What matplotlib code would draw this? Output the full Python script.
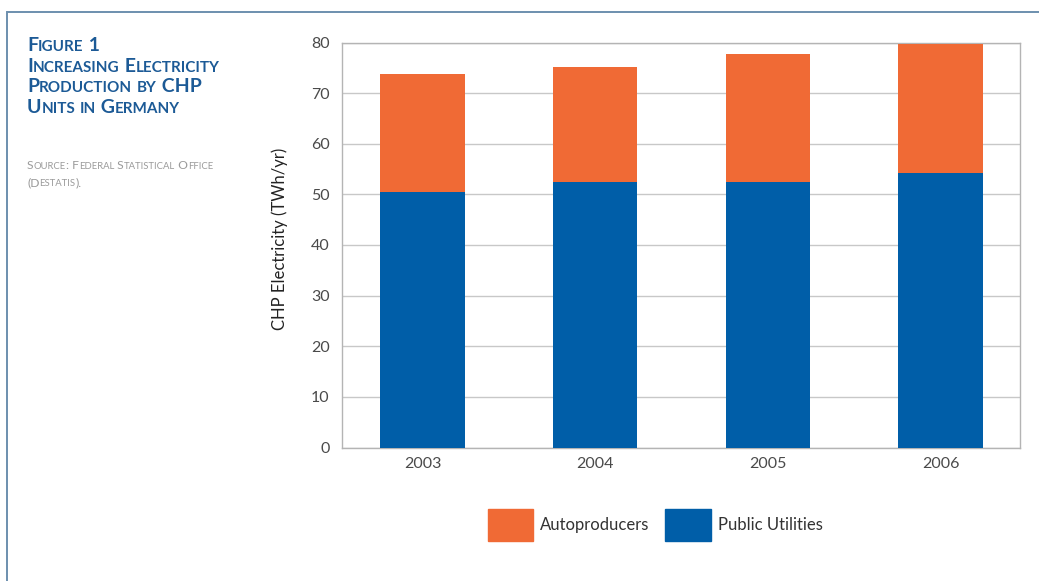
import numpy as np
import matplotlib
matplotlib.use('Agg')
import matplotlib.pyplot as plt
from matplotlib.patches import Patch
from matplotlib.lines import Line2D

# datos (TWh/yr)
years = ['2003', '2004', '2005', '2006']
public = [50.4, 52.4, 52.5, 54.2]
auto = [23.4, 22.8, 25.3, 25.5]

orange = '#f06a35'
blue = '#005ea8'
title_col = '#1c5a96'
W, H = 1039, 581

plt.rcParams['font.family'] = ['Lato', 'DejaVu Sans']

fig = plt.figure(figsize=(W / 100, H / 100), dpi=100)
fig.patch.set_facecolor('white')
ren = fig.canvas.get_renderer()


def px(x, y):
    # pixel (desde arriba a la izquierda) -> fraccion de figura
    return x / W, 1 - y / H


def smallcaps(x, y, text, big, small, color, weight='normal'):
    # dibuja texto en versalitas midiendo cada tramo
    runs = []
    for ch in text:
        size = small if ch.islower() else big
        if runs and runs[-1][1] == size:
            runs[-1][0] += ch.upper()
        else:
            runs.append([ch.upper(), size])
    cx = x
    for s, size in runs:
        t = fig.text(*px(cx, y), s.replace(' ', '\u00a0'), fontsize=size,
                     color=color, fontweight=weight, va='baseline', ha='left')
        cx += t.get_window_extent(ren).width


# marco azul de la figura
fig.add_artist(Line2D([8 / W, 1], [1 - 12 / H] * 2, color='#6d8fae', lw=1.4))
fig.add_artist(Line2D([7 / W] * 2, [0, 1 - 12 / H], color='#6d8fae', lw=1.4))

# titulo
smallcaps(27, 51, 'Figure 1', 14, 11, title_col, 'bold')
smallcaps(27, 72, 'Increasing Electricity', 14, 11, title_col, 'bold')
smallcaps(27, 92, 'Production by CHP', 14, 11, title_col, 'bold')
smallcaps(27, 113, 'Units in Germany', 14, 11, title_col, 'bold')
smallcaps(27, 169, 'Source: Federal Statistical Office', 8.7, 6.8, '#9a9a9a')
smallcaps(27, 186, '(Destatis).', 8.7, 6.8, '#9a9a9a')

ax = fig.add_axes([342 / W, 1 - 447.5 / H, (1020 - 342) / W, (447.5 - 42.5) / H])
x = np.arange(len(years))
ax.bar(x, public, width=0.49, color=blue, zorder=3)
ax.bar(x, auto, bottom=public, width=0.49, color=orange, zorder=3)

ax.set_ylim(0, 80)
ax.set_xlim(-0.466, 3.46)
ax.set_yticks(range(0, 81, 10))
ax.set_xticks(x, years)
ax.yaxis.grid(True, color='#c8c8c8', lw=1, zorder=0)
ax.tick_params(length=0, labelsize=11.5, colors='#4a4a4a')
ax.tick_params(axis='y', pad=9)
ax.tick_params(axis='x', pad=7)
for s in ax.spines.values():
    s.set_color('#b4b4b4')
    s.set_linewidth(1)
ax.set_ylabel('CHP Electricity (TWh/yr)', fontsize=12, color='#222222')
ax.yaxis.set_label_coords(-(342 - 288) / (1020 - 342), (447.5 - 239) / 405)

handles = [Patch(color=orange, label='Autoproducers'),
           Patch(color=blue, label='Public Utilities')]
fig.legend(handles=handles, loc='center', bbox_to_anchor=px(655, 525), ncol=2,
           frameon=False, fontsize=12, handlelength=2.75, handleheight=2.65,
           handletextpad=0.42, columnspacing=0.9, labelcolor='#333333')

fig.savefig('out.png', dpi=100)
